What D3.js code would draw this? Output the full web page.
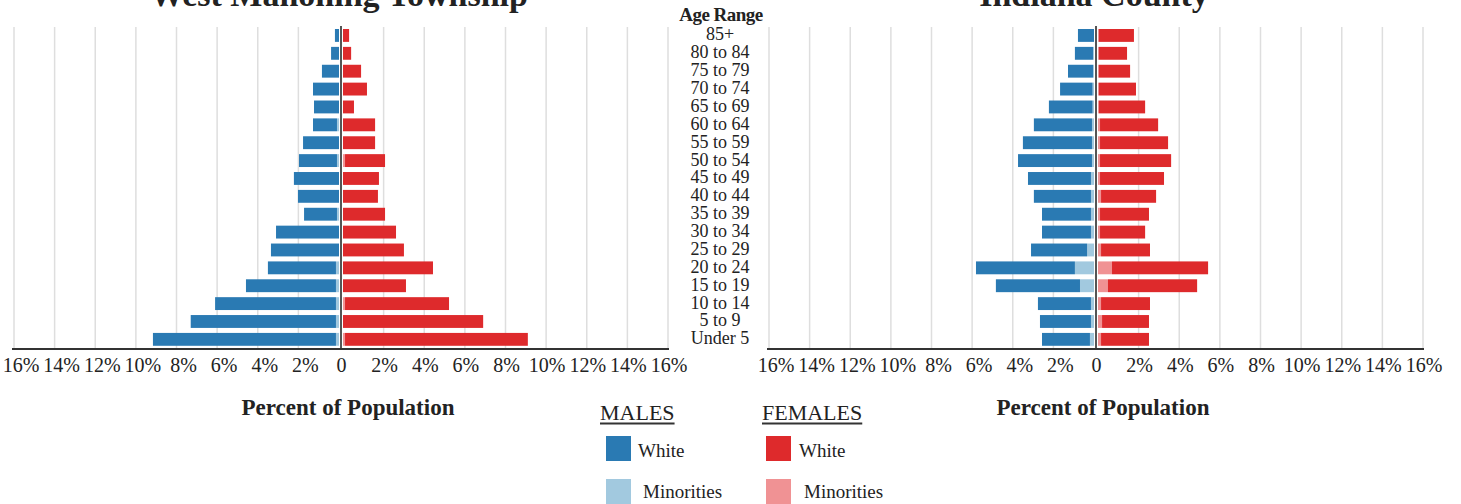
<!DOCTYPE html>
<html>
<head>
<meta charset="utf-8">
<script src="https://cdn.jsdelivr.net/npm/d3@7/dist/d3.min.js"></script>
<style>
  html, body { margin: 0; padding: 0; background: #fff; }
  svg { display: block; }
  text { font-family: "Liberation Serif", "Times New Roman", serif; fill: #222; }
</style>
</head>
<body>
<svg id="chart" width="1461" height="504"></svg>
<script>
// ---------- DATA ----------
const ageGroups = ["85+", "80 to 84", "75 to 79", "70 to 74", "65 to 69", "60 to 64",
  "55 to 59", "50 to 54", "45 to 49", "40 to 44", "35 to 39", "30 to 34",
  "25 to 29", "20 to 24", "15 to 19", "10 to 14", "5 to 9", "Under 5"];

const chartTitles = ["West Mahoning Township", "Indiana County"];

// West Mahoning Township (percent of population)
const wmMaleWhite      = [0.20, 0.39, 0.84, 1.28, 1.23, 1.18, 1.77, 1.87, 2.22, 2.02, 1.62, 3.10, 3.35, 3.35, 4.43, 5.95, 7.15, 9.01];
const wmMaleMinority   = [0.00, 0.00, 0.00, 0.00, 0.00, 0.10, 0.00, 0.10, 0.00, 0.00, 0.10, 0.00, 0.00, 0.15, 0.15, 0.15, 0.15, 0.15];
const wmFemaleWhite    = [0.30, 0.40, 0.89, 1.18, 0.54, 1.58, 1.58, 1.97, 1.77, 1.72, 2.07, 2.61, 3.00, 4.43, 3.10, 5.12, 6.90, 9.00];
const wmFemaleMinority = [0.00, 0.00, 0.00, 0.00, 0.00, 0.00, 0.00, 0.10, 0.00, 0.00, 0.00, 0.00, 0.00, 0.00, 0.00, 0.10, 0.00, 0.10];

// Indiana County (percent of population)
const icMaleWhite      = [0.79, 0.89, 1.23, 1.60, 2.15, 2.86, 3.40, 3.64, 3.10, 2.81, 2.41, 2.41, 2.76, 4.87, 4.14, 2.61, 2.51, 2.36];
const icMaleMinority   = [0.00, 0.05, 0.05, 0.07, 0.07, 0.10, 0.10, 0.10, 0.15, 0.15, 0.15, 0.15, 0.34, 0.94, 0.69, 0.15, 0.15, 0.20];
const icFemaleWhite    = [1.72, 1.38, 1.53, 1.82, 2.27, 2.86, 3.35, 3.50, 3.15, 2.71, 2.41, 2.22, 2.41, 4.73, 4.39, 2.41, 2.31, 2.36];
const icFemaleMinority = [0.05, 0.05, 0.05, 0.05, 0.05, 0.10, 0.10, 0.10, 0.10, 0.15, 0.10, 0.10, 0.15, 0.69, 0.49, 0.15, 0.20, 0.15];

const tickValues = [0, 2, 4, 6, 8, 10, 12, 14, 16];
const tickLabels = ["0", "2%", "4%", "6%", "8%", "10%", "12%", "14%", "16%"];

const legendGroups = ["MALES", "FEMALES"];
const legendItems = ["White", "Minorities"];

// ---------- STYLE ----------
const colors = {
  maleWhite: "#2a7ab3", maleMinority: "#a2c9df",
  femaleWhite: "#de2a2c", femaleMinority: "#f09294"
};

const svg = d3.select("#chart");

const y = d3.scaleBand().domain(ageGroups).range([24, 350.8]).padding(0.28);

const charts = [
  { center: 341, title: chartTitles[0], mw: wmMaleWhite, mm: wmMaleMinority, fw: wmFemaleWhite, fm: wmFemaleMinority },
  { center: 1096, title: chartTitles[1], mw: icMaleWhite, mm: icMaleMinority, fw: icFemaleWhite, fm: icFemaleMinority }
];

const halfW = 325;
const axisY = 349;

charts.forEach(c => {
  const xm = d3.scaleLinear().domain([0, 16]).range([c.center - 2, c.center - 2 - halfW]);
  const xf = d3.scaleLinear().domain([0, 16]).range([c.center + 2, c.center + 2 + halfW]);
  const g = svg.append("g");

  // gridlines
  const gridTicks = tickValues.filter(v => v > 0);
  g.selectAll(".gm").data(gridTicks).join("line")
    .attr("x1", d => xm(d)).attr("x2", d => xm(d))
    .attr("y1", 27).attr("y2", axisY)
    .attr("stroke", "#dedede").attr("stroke-width", 1.5);
  g.selectAll(".gf").data(gridTicks).join("line")
    .attr("x1", d => xf(d)).attr("x2", d => xf(d))
    .attr("y1", 27).attr("y2", axisY)
    .attr("stroke", "#dedede").attr("stroke-width", 1.5);

  const rows = ageGroups.map((a, i) => ({ age: a, mw: c.mw[i], mm: c.mm[i], fw: c.fw[i], fm: c.fm[i] }));

  // male minority (inner) and white (outer)
  g.selectAll(".mm").data(rows).join("rect")
    .attr("x", d => xm(d.mm)).attr("width", d => xm(0) - xm(d.mm))
    .attr("y", d => y(d.age)).attr("height", y.bandwidth())
    .attr("fill", colors.maleMinority);
  g.selectAll(".mw").data(rows).join("rect")
    .attr("x", d => xm(d.mm + d.mw)).attr("width", d => xm(d.mm) - xm(d.mm + d.mw))
    .attr("y", d => y(d.age)).attr("height", y.bandwidth())
    .attr("fill", colors.maleWhite);
  // female
  g.selectAll(".fm").data(rows).join("rect")
    .attr("x", d => xf(0)).attr("width", d => xf(d.fm) - xf(0))
    .attr("y", d => y(d.age)).attr("height", y.bandwidth())
    .attr("fill", colors.femaleMinority);
  g.selectAll(".fw").data(rows).join("rect")
    .attr("x", d => xf(d.fm)).attr("width", d => xf(d.fm + d.fw) - xf(d.fm))
    .attr("y", d => y(d.age)).attr("height", y.bandwidth())
    .attr("fill", colors.femaleWhite);

  // center line
  g.append("line")
    .attr("x1", c.center).attr("x2", c.center)
    .attr("y1", 26).attr("y2", axisY + 1)
    .attr("stroke", "#555").attr("stroke-width", 2);

  // axis line
  g.append("line")
    .attr("x1", xm(16) - 2).attr("x2", xf(16) + 1)
    .attr("y1", axisY).attr("y2", axisY)
    .attr("stroke", "#333").attr("stroke-width", 2);

  // tick labels
  const labelData = [];
  tickValues.forEach((v, i) => {
    if (v === 0) labelData.push({ x: c.center + 0.5, t: tickLabels[i] });
    else {
      labelData.push({ x: xm(v) + 7, t: tickLabels[i] });
      labelData.push({ x: xf(v) + 1, t: tickLabels[i] });
    }
  });
  g.selectAll(".tl").data(labelData).join("text")
    .attr("x", d => d.x).attr("y", 372)
    .attr("text-anchor", "middle")
    .style("font-size", "20px")
    .text(d => d.t);

  // axis title
  g.append("text")
    .attr("x", c.center + 7).attr("y", 415)
    .attr("text-anchor", "middle")
    .style("font-size", "23px").style("font-weight", "bold")
    .text("Percent of Population");

  // chart title
  g.append("text")
    .attr("x", c.center - 2).attr("y", 6)
    .attr("text-anchor", "middle")
    .style("font-size", "34px").style("font-weight", "bold")
    .text(c.title);
});

// Age labels
svg.append("text")
  .attr("x", 721).attr("y", 20.5)
  .attr("text-anchor", "middle")
  .style("font-size", "19px").style("font-weight", "bold")
  .style("letter-spacing", "-0.5px")
  .text("Age Range");

svg.selectAll(".age").data(ageGroups).join("text")
  .attr("x", 720)
  .attr("y", d => y(d) + y.bandwidth() / 2 + 5)
  .attr("text-anchor", "middle")
  .style("font-size", "18px")
  .text(d => d);

// Legend
const legend = svg.append("g");
const legendX = [600, 762];
const swatchX = [606, 766];
const textX = [[638, 643], [799, 804]];
const swatchColors = [[colors.maleWhite, colors.maleMinority], [colors.femaleWhite, colors.femaleMinority]];
const swatchY = [436, 479];
const textY = [457, 498];

legendGroups.forEach((name, gi) => {
  const t = legend.append("text")
    .attr("x", legendX[gi]).attr("y", 420)
    .style("font-size", "22px")
    .text(name);
  const w = t.node().getComputedTextLength();
  legend.append("line")
    .attr("x1", legendX[gi]).attr("x2", legendX[gi] + w)
    .attr("y1", 423.5).attr("y2", 423.5)
    .attr("stroke", "#333").attr("stroke-width", 2.2);
  legendItems.forEach((item, ii) => {
    legend.append("rect")
      .attr("x", swatchX[gi]).attr("y", swatchY[ii])
      .attr("width", 25).attr("height", 25)
      .attr("fill", swatchColors[gi][ii]);
    legend.append("text")
      .attr("x", textX[gi][ii]).attr("y", textY[ii])
      .style("font-size", "19px")
      .text(item);
  });
});
</script>
</body>
</html>
